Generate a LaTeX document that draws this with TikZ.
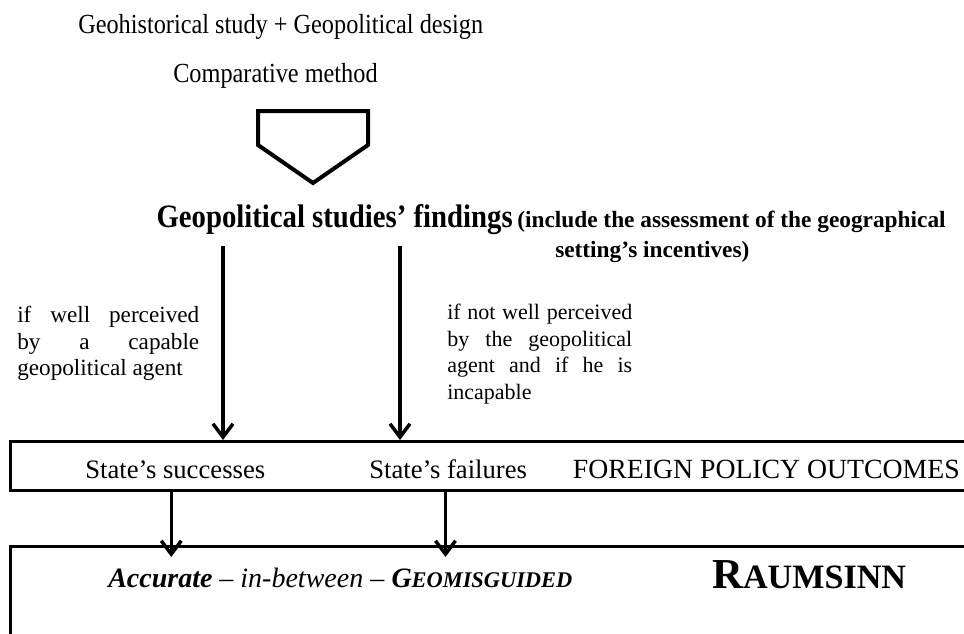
\documentclass[tikz,border=0pt]{standalone}
\usepackage{fontspec}
\setmainfont{Liberation Serif}
\newfontfamily\narrow[FakeStretch=0.88]{Liberation Serif}
\usetikzlibrary{arrows.meta,positioning}

\begin{document}
\begin{tikzpicture}[x=0.75pt, y=-0.75pt,
    seta/.style={-{Straight Barb[length=10pt,width=15pt]}, line width=2.6pt},
    caixa/.style={draw, line width=2.3pt, inner sep=0pt, anchor=north west, minimum width=728pt},
    texto/.style={inner sep=0pt, anchor=base west}]
  \useasboundingbox (0,0) rectangle (964,633);
  \clip (0,0) rectangle (964,633);

  % Metodo
  \node[texto, font=\narrow\fontsize{20.7}{24}\selectfont] (geo) at (78,33) {Geohistorical study + Geopolitical design};
  \node[texto, font=\narrow\fontsize{20.7}{24}\selectfont] (comp) at (173,82) {Comparative method};

  % Seta pentagonal
  \draw[line width=3pt] (258,111) -- (368,111) -- (368,145) -- (313,183) -- (258,145) -- cycle;

  % Resultados dos estudos
  \node[texto, anchor=base east, font=\narrow\bfseries\fontsize{24.5}{28}\selectfont] (find) at (513,227) {Geopolitical studies’ findings};
  \node[texto, font=\bfseries\fontsize{17.5}{21}\selectfont] (incl) at (517,227) {(include the assessment of the geographical};
  \node[texto, font=\bfseries\fontsize{17.5}{21}\selectfont] (sett) at (555,257) {setting’s incentives)};

  % Condicoes
  \node[inner sep=0pt, anchor=north west, align=left, font=\fontsize{17.4}{19.9}\selectfont] (bem) at (17,306)
    {\makebox[136.5pt][s]{if well perceived}\\ \makebox[136.5pt][s]{by a capable}\\ geopolitical agent};
  \node[inner sep=0pt, anchor=north west, align=left, font=\fontsize{16.5}{19.9}\selectfont] (mal) at (447,304)
    {\makebox[138.75pt][s]{if not well perceived}\\ \makebox[138.75pt][s]{by the geopolitical}\\ \makebox[138.75pt][s]{agent and if he is}\\ incapable};

  % Caixas
  \node[caixa, minimum height=36.75pt] (outbox) at (9,440) {};
  \node[caixa, minimum height=90pt] (rbox) at (9,545) {};

  % Politica externa
  \node[texto, font=\fontsize{20}{24}\selectfont] (succ) at (85,478) {State’s successes};
  \node[texto, font=\fontsize{20}{24}\selectfont] (fail) at (369,478) {State’s failures};
  \node[texto, anchor=base east, font=\fontsize{20.8}{25}\selectfont] (fpo) at (960,478) {FOREIGN POLICY OUTCOMES};

  % Raumsinn
  \node[texto, font=\fontsize{21}{25}\selectfont] (acc) at (108,587)
    {\textbf{\textit{Accurate}} \textit{– in-between –} \textbf{\textit{G{\fontsize{16.8}{20}\selectfont EOMISGUIDED}}}};
  \node[texto, font=\bfseries\fontsize{32}{38}\selectfont] (raum) at (712,588) {R{\fontsize{25.6}{30}\selectfont AUMSINN}};

  % Setas
  \coordinate (cL) at (223,246);
  \coordinate (cR) at (400,246);
  \draw[seta] (cL) -- (cL |- outbox.north);
  \draw[seta] (cR) -- (cR |- outbox.north);
  \draw[seta, shorten >=-9pt] ([xshift=-3pt]succ.center |- outbox.south) -- ([xshift=-3pt]succ.center |- rbox.north);
  \draw[seta, shorten >=-9pt] ([xshift=-2pt]fail.center |- outbox.south) -- ([xshift=-2pt]fail.center |- rbox.north);
\end{tikzpicture}
\end{document}
